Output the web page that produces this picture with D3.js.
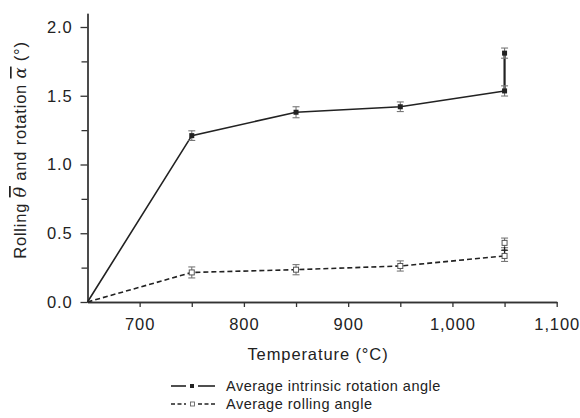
<!DOCTYPE html>
<html><head><meta charset="utf-8">
<script src="https://cdn.jsdelivr.net/npm/d3@7"></script>
<style>
body{margin:0;background:#fff;}
svg{display:block;font-family:"Liberation Sans",Arial,Helvetica,sans-serif;}
</style></head>
<body><svg id="c" width="580" height="418"></svg>
<script>
const temps = [650, 750, 850, 950, 1050];
const intrinsic = [0, 1.21, 1.38, 1.42, 1.535];
const intrinsicErr = [0, 0.035, 0.04, 0.035, 0.037];
const rolling = [0, 0.215, 0.235, 0.262, 0.335];
const rollingErr = [0, 0.04, 0.037, 0.037, 0.04];
const extraIntrinsic = [{t: 1050, v: 1.81, e: 0.037}];
const extraRolling = [{t: 1050, v: 0.43, e: 0.035}];
const extraRollingCross = [{t: 1050, v: 0.378}];
const xTicks = [700, 800, 900, 1000, 1100];
const xMinor = [750, 850, 950, 1050];
const yTicks = [0, 0.5, 1.0, 1.5, 2.0];
const yMinor = [0.25, 0.75, 1.25, 1.75];
const legendLabels = ["Average intrinsic rotation angle", "Average rolling angle"];

const svg = d3.select("#c");
const x = d3.scaleLinear().domain([650, 1100]).range([87.5, 556.7]);
const y = d3.scaleLinear().domain([0, 2.1]).range([302, 13.25]);
const ink = "#222", errC = "#777";

// axes
const xa = svg.append("g").attr("transform", `translate(0,${y(0)})`)
  .call(d3.axisBottom(x).tickValues(xTicks).tickFormat(d3.format(",")).tickSize(5).tickSizeOuter(0));
const xm = svg.append("g").attr("transform", `translate(0,${y(0)})`)
  .call(d3.axisBottom(x).tickValues(xMinor).tickFormat("").tickSize(5).tickSizeOuter(0));
const ya = svg.append("g").attr("transform", `translate(${x(650)},0)`)
  .call(d3.axisLeft(y).tickValues(yTicks).tickFormat(d3.format(".1f")).tickSize(7).tickSizeOuter(0));
const ym = svg.append("g").attr("transform", `translate(${x(650)},0)`)
  .call(d3.axisLeft(y).tickValues(yMinor).tickFormat("").tickSize(6).tickSizeOuter(0));
[xa, xm, ya, ym].forEach(g => {
  g.selectAll("path,line").attr("stroke", "#333").attr("stroke-width", 1.3);
  g.selectAll("text").attr("fill", ink).style("font-size", "16.5px").style("letter-spacing", "0.9px")
   .style("font-family", '"Liberation Sans",Arial,sans-serif');
});
xa.selectAll("text").attr("dy", "1.21em");
ya.selectAll("text").attr("dx", "-0.3em");

// axis labels
svg.append("text").attr("x", 318).attr("y", 360).attr("text-anchor", "middle")
  .attr("fill", ink).style("font-size", "16.5px").style("letter-spacing", "0.9px").text("Temperature (°C)");
const yl = svg.append("text").attr("transform", "translate(26,150) rotate(-90)")
  .attr("text-anchor", "middle").attr("fill", ink).style("font-size", "16.5px").style("letter-spacing", "0.8px");
yl.append("tspan").text("Rolling ");
yl.append("tspan").style("font-family", '"DejaVu Serif",serif').style("font-style", "italic")
  .style("text-decoration", "overline").style("font-size", "17.5px").text("\u03B8");
yl.append("tspan").text(" and rotation ");
yl.append("tspan").style("font-family", '"DejaVu Serif",serif').style("font-style", "italic")
  .style("text-decoration", "overline").text("\u03B1");
yl.append("tspan").text("  (°)");

// lines
const line = d3.line().x(d => x(d[0])).y(d => y(d[1]));
svg.append("path").datum(temps.map((t, i) => [t, intrinsic[i]]))
  .attr("d", line).attr("fill", "none").attr("stroke", ink).attr("stroke-width", 1.6);
svg.append("path").datum(temps.map((t, i) => [t, rolling[i]]))
  .attr("d", line).attr("fill", "none").attr("stroke", ink).attr("stroke-width", 1.6)
  .attr("stroke-dasharray", "5,3");
// vertical connector for extra intrinsic point
svg.append("path").datum([[1050, intrinsic[4]], [extraIntrinsic[0].t, extraIntrinsic[0].v]])
  .attr("d", line).attr("stroke", ink).attr("stroke-width", 2.2).attr("fill", "none");

function errbar(t, v, e) {
  const g = svg.append("g").attr("stroke", errC).attr("stroke-width", 1.1);
  g.append("line").attr("x1", x(t)).attr("x2", x(t)).attr("y1", y(v - e)).attr("y2", y(v + e));
  [v - e, v + e].forEach(w => g.append("line").attr("x1", x(t) - 3.5).attr("x2", x(t) + 3.5)
    .attr("y1", y(w)).attr("y2", y(w)));
}
const pts = d3.range(1, temps.length);
pts.forEach(i => errbar(temps[i], intrinsic[i], intrinsicErr[i]));
pts.forEach(i => errbar(temps[i], rolling[i], rollingErr[i]));
extraIntrinsic.forEach(d => errbar(d.t, d.v, d.e));
extraRolling.forEach(d => errbar(d.t, d.v, d.e));

const intrPts = pts.map(i => ({t: temps[i], v: intrinsic[i]})).concat(extraIntrinsic);
svg.selectAll(".fs").data(intrPts).join("rect")
  .attr("x", d => x(d.t) - 2.5).attr("y", d => y(d.v) - 2.5).attr("width", 5).attr("height", 5)
  .attr("fill", ink);
const rollPts = pts.map(i => ({t: temps[i], v: rolling[i]})).concat(extraRolling);
svg.selectAll(".os").data(rollPts).join("rect")
  .attr("x", d => x(d.t) - 2.5).attr("y", d => y(d.v) - 2.5).attr("width", 5).attr("height", 5)
  .attr("fill", "#fff").attr("stroke", "#555").attr("stroke-width", 1);
extraRollingCross.forEach(d => {
  svg.append("path").attr("d", `M${x(d.t) - 3},${y(d.v)}h6M${x(d.t)},${y(d.v) - 3}v6`)
    .attr("stroke", ink).attr("stroke-width", 1.3);
});

// legend
const L = svg.append("g");
const ly = [386, 404];
L.append("line").attr("x1", 171).attr("x2", 186).attr("y1", ly[0]).attr("y2", ly[0]).attr("stroke", ink).attr("stroke-width", 1.6);
L.append("line").attr("x1", 198).attr("x2", 215).attr("y1", ly[0]).attr("y2", ly[0]).attr("stroke", ink).attr("stroke-width", 1.6);
L.append("rect").attr("x", 190).attr("y", ly[0] - 2).attr("width", 4).attr("height", 4).attr("fill", ink);
L.append("line").attr("x1", 171).attr("x2", 186).attr("y1", ly[1]).attr("y2", ly[1]).attr("stroke", ink).attr("stroke-width", 1.3).attr("stroke-dasharray", "4,2.5");
L.append("line").attr("x1", 198).attr("x2", 215).attr("y1", ly[1]).attr("y2", ly[1]).attr("stroke", ink).attr("stroke-width", 1.3).attr("stroke-dasharray", "4,2.5");
L.append("rect").attr("x", 190.5).attr("y", ly[1] - 2).attr("width", 4).attr("height", 4).attr("fill", "#fff").attr("stroke", "#666").attr("stroke-width", 0.9);
legendLabels.forEach((s, i) => L.append("text").attr("x", 226).attr("y", ly[i]).attr("dy", "0.35em")
  .attr("fill", ink).style("font-size", "14.5px").style("letter-spacing", "0.5px").text(s));
</script></body></html>
